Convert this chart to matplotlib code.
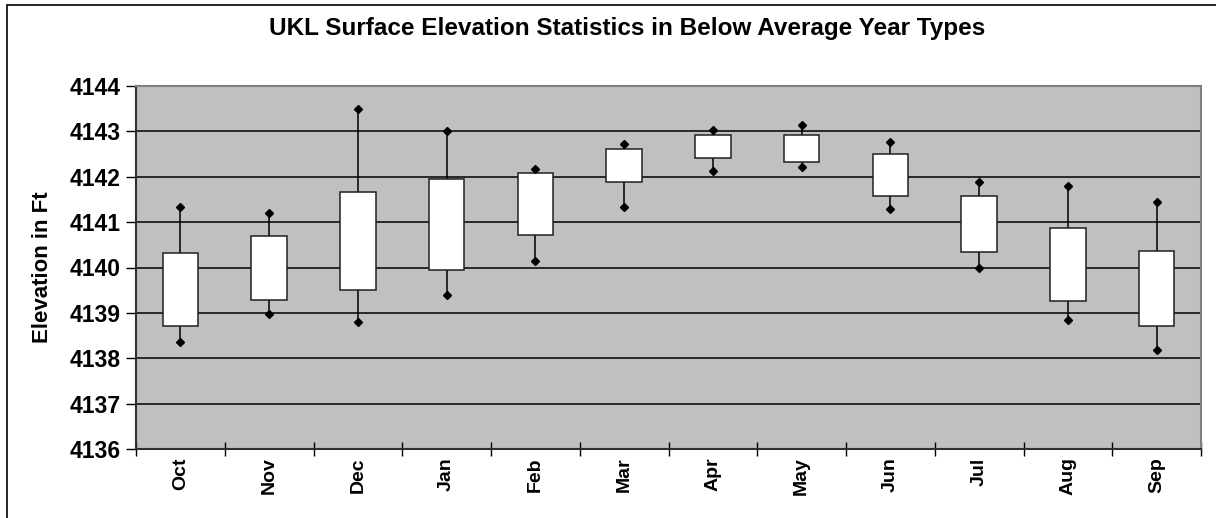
import numpy as np
import matplotlib.pyplot as plt
from matplotlib.patches import Rectangle

months = ['Oct', 'Nov', 'Dec', 'Jan', 'Feb', 'Mar', 'Apr', 'May', 'Jun', 'Jul', 'Aug', 'Sep']
whisker_high = [4141.33, 4141.20, 4143.49, 4143.01, 4142.18, 4142.72, 4143.04, 4143.14, 4142.77, 4141.89, 4141.80, 4141.44]
box_high = [4140.33, 4140.70, 4141.67, 4141.94, 4142.08, 4142.61, 4142.91, 4142.91, 4142.51, 4141.57, 4140.86, 4140.36]
box_low = [4138.70, 4139.28, 4139.51, 4139.95, 4140.72, 4141.88, 4142.42, 4142.33, 4141.57, 4140.35, 4139.26, 4138.70]
whisker_low = [4138.35, 4138.98, 4138.79, 4139.40, 4140.14, 4141.33, 4142.13, 4142.21, 4141.28, 4139.99, 4138.85, 4138.18]

plt.rcParams['font.family'] = ['Liberation Sans', 'DejaVu Sans']
plt.rcParams['font.weight'] = 'bold'
plt.rcParams['axes.labelweight'] = 'bold'

fig = plt.figure(figsize=(12.16, 5.18), dpi=100)
ax = fig.add_axes([136/1216, 1-449/518, (1201-136)/1216, (449-86)/518])

# outer chart border (left and top visible, rest cropped)
fig.patches.append(Rectangle((7/1216, -0.1), 1.2, 1-5/518+0.1, transform=fig.transFigure,
                             fill=False, edgecolor='black', lw=1.2))

x = np.arange(len(months))
hi_w = np.array(whisker_high); hi_b = np.array(box_high)
lo_b = np.array(box_low); lo_w = np.array(whisker_low)

ax.set_facecolor('#c0c0c0')
for v in range(4137, 4144):
    ax.axhline(v, color='black', lw=1.1, zorder=1)

ax.vlines(x, hi_b, hi_w, color='black', lw=1.1, zorder=2)
ax.vlines(x, lo_w, lo_b, color='black', lw=1.1, zorder=2)
ax.bar(x, hi_b - lo_b, bottom=lo_b, width=0.4, color='white', edgecolor='#202020', lw=1.1, zorder=3)
ax.plot(x, hi_w, 'D', color='black', ms=4, zorder=4)
ax.plot(x, lo_w, 'D', color='black', ms=4, zorder=4)

ax.set_xlim(-0.5, len(months) - 0.5)
ax.set_ylim(4136, 4144)
ax.set_yticks(range(4136, 4145))
ax.tick_params(axis='y', direction='out', length=7, width=1, labelsize=16.5, pad=4)
ax.set_xticks(x)
ax.set_xticklabels(months, rotation=90, fontsize=14)
ax.tick_params(axis='x', length=0, pad=6)
ax.set_xticks(np.arange(len(months) + 1) - 0.5, minor=True)
ax.tick_params(axis='x', which='minor', direction='inout', length=10, width=1)

for side in ['top', 'right']:
    ax.spines[side].set_color('#808080')
    ax.spines[side].set_linewidth(1.5)
for side in ['left', 'bottom']:
    ax.spines[side].set_color('#303030')
    ax.spines[side].set_linewidth(1.5)

ax.set_ylabel('Elevation in Ft', fontsize=16, labelpad=12)
fig.text(627/1216, 1-28/518, 'UKL Surface Elevation Statistics in Below Average Year Types',
         ha='center', va='center', fontsize=17.5, fontweight='bold')

fig.savefig('out.png', dpi=100)
